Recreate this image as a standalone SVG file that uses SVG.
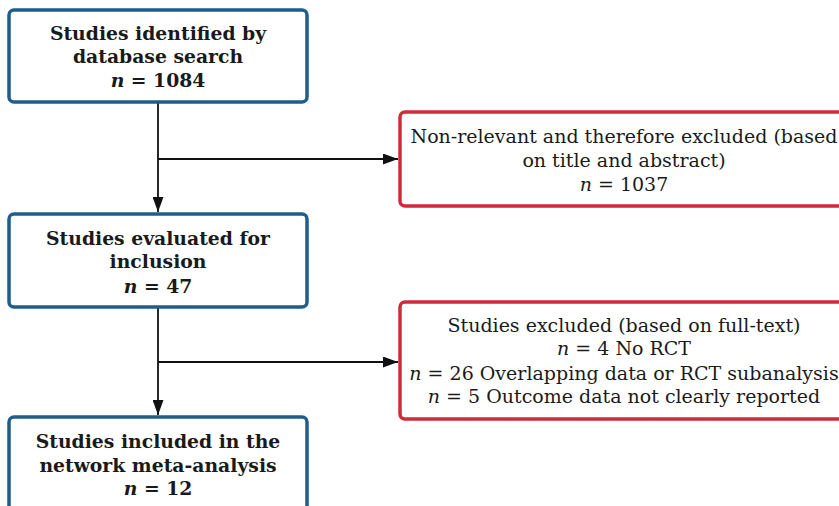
<svg xmlns="http://www.w3.org/2000/svg" width="839" height="506" viewBox="0 0 839 506">
  <style>
    .box { fill: #ffffff; stroke-width: 3.5; }
    .main { stroke: #1d5e8c; }
    .excl { stroke: #d12a3b; }
    .t { font-family: "DejaVu Serif", "Liberation Serif", serif; font-size: 19px; fill: #1a1a1a; text-anchor: middle; }
    .b { font-weight: bold; font-size: 18.8px; }
    .edge { stroke: #111111; stroke-width: 1.8; fill: none; }
  </style>
  <defs>
    <marker id="arrow" viewBox="0 0 15 11" refX="15" refY="5.5" markerWidth="15" markerHeight="11" markerUnits="userSpaceOnUse" orient="auto">
      <path d="M0,0 L15,5.5 L0,11 Z" fill="#111111"/>
    </marker>
  </defs>

  <g id="connectors">
    <path class="edge" d="M158,103 V212" marker-end="url(#arrow)"/>
    <path class="edge" d="M158,159 H398" marker-end="url(#arrow)"/>
    <path class="edge" d="M158,308 V415" marker-end="url(#arrow)"/>
    <path class="edge" d="M158,362 H398" marker-end="url(#arrow)"/>
  </g>

  <g id="identified">
    <rect class="box main" x="9" y="10" width="298" height="92" rx="5"/>
    <text class="t b" x="158" y="40">Studies identified by</text>
    <text class="t b" x="158" y="63">database search</text>
    <text class="t b" x="158" y="87"><tspan font-style="italic">n</tspan> = 1084</text>
  </g>

  <g id="screened-out">
    <rect class="box excl" x="400" y="112" width="450" height="94" rx="5"/>
    <text class="t" x="624" y="143">Non-relevant and therefore excluded (based</text>
    <text class="t" x="624" y="167">on title and abstract)</text>
    <text class="t" x="624" y="191"><tspan font-style="italic">n</tspan> = 1037</text>
  </g>

  <g id="evaluated">
    <rect class="box main" x="9" y="214" width="298" height="93" rx="5"/>
    <text class="t b" x="158" y="245">Studies evaluated for</text>
    <text class="t b" x="158" y="268">inclusion</text>
    <text class="t b" x="158" y="293"><tspan font-style="italic">n</tspan> = 47</text>
  </g>

  <g id="fulltext-excluded">
    <rect class="box excl" x="400" y="302" width="450" height="117" rx="5"/>
    <text class="t" x="624" y="332">Studies excluded (based on full-text)</text>
    <text class="t" x="624" y="355"><tspan font-style="italic">n</tspan> = 4 No RCT</text>
    <text class="t" x="624" y="380"><tspan font-style="italic">n</tspan> = 26 Overlapping data or RCT subanalysis</text>
    <text class="t" x="624" y="403"><tspan font-style="italic">n</tspan> = 5 Outcome data not clearly reported</text>
  </g>

  <g id="included">
    <rect class="box main" x="9" y="417" width="298" height="100" rx="5"/>
    <text class="t b" x="158" y="448">Studies included in the</text>
    <text class="t b" x="158" y="472">network meta-analysis</text>
    <text class="t b" x="158" y="495"><tspan font-style="italic">n</tspan> = 12</text>
  </g>
</svg>
